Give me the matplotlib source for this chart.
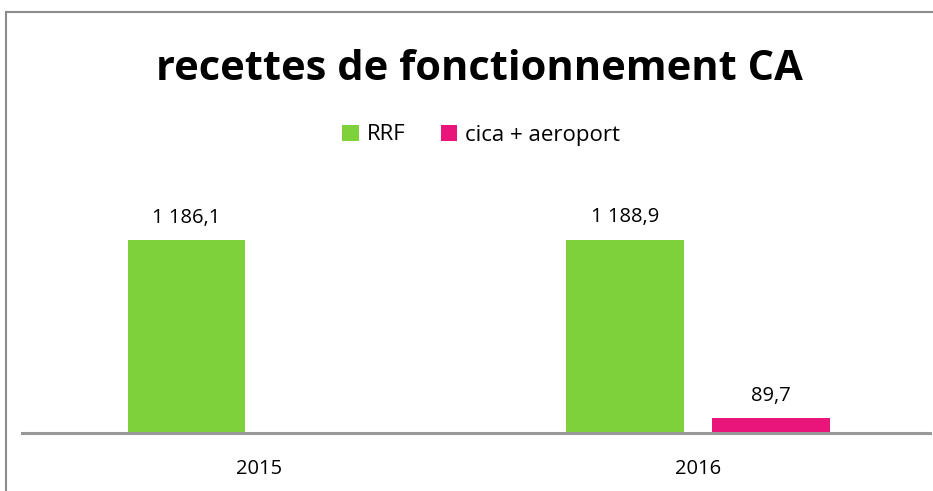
import matplotlib.pyplot as plt
from matplotlib.lines import Line2D
import numpy as np

years = ['2015', '2016']
rrf = [1186.1, 1188.9]
cica = [np.nan, 89.7]

green = '#7fd13b'
pink = '#ea157a'
W, H = 933, 491


def fr(v):
    s = f"{v:,.1f}"
    return s.replace(',', ' ').replace('.', ',')


fig = plt.figure(figsize=(W / 100, H / 100), dpi=100)
plt.rcParams['font.family'] = ['Open Sans', 'DejaVu Sans']

# plot area in pixels: left 22, right 930, bottom (baseline) 433, top 180
ax = fig.add_axes([22 / W, (H - 433) / H, (930 - 22) / W, (433 - 180) / H])
x = np.arange(len(years))
bw = 0.267
off = 0.1665
b1 = ax.bar(x - off, rrf, bw, color=green, label='RRF')
b2 = ax.bar(x + off, cica, bw, color=pink, label='cica + aeroport')

ax.set_xlim(-0.5416, 1.529)
ax.set_ylim(0, 1186.1 * 253 / 193)

for bars, vals in [(b1, rrf), (b2, cica)]:
    for r, v in zip(bars, vals):
        if np.isnan(v):
            continue
        ax.annotate(fr(v), (r.get_x() + r.get_width() / 2, v), xytext=(0, 9),
                    textcoords='offset points', ha='center', va='bottom',
                    fontsize=14.5, color='#000000')

for s in ['left', 'right', 'top']:
    ax.spines[s].set_visible(False)
ax.spines['bottom'].set_color('#999999')
ax.spines['bottom'].set_linewidth(2.2)
ax.set_yticks([])
ax.set_xticks(x)
ax.set_xticklabels(years, fontsize=14.5)
ax.tick_params(axis='x', length=0, pad=19)

fig.text(479 / W, 1 - 70 / H, 'recettes de fonctionnement CA', ha='center', va='center',
         fontsize=30, fontweight='bold')
fig.legend(loc='center', bbox_to_anchor=(481 / W, 1 - 135 / H), ncol=2, frameon=False,
           fontsize=16, handlelength=0.75, handleheight=0.75, handletextpad=0.35,
           columnspacing=1.6)

# chart frame (left and top edges visible)
fig.add_artist(Line2D([6 / W, 6 / W], [0, 1 - 12 / H], color='#8c8c8c', lw=1.5))
fig.add_artist(Line2D([6 / W, 1], [1 - 12 / H, 1 - 12 / H], color='#8c8c8c', lw=1.5))

fig.savefig('out.png', dpi=100)
